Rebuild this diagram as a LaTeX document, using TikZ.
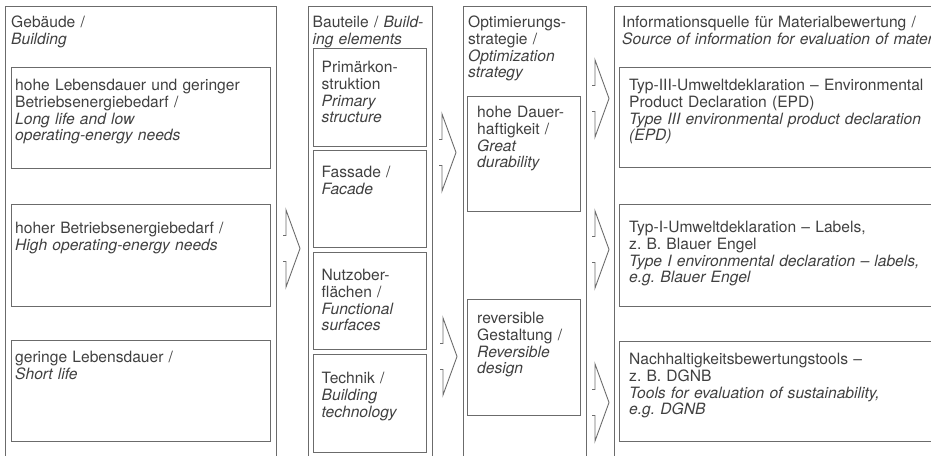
\documentclass[tikz,border=0pt]{standalone}
\usepackage{fontspec}
\setmainfont{TeX Gyre Heros}
\usetikzlibrary{positioning}
\definecolor{linegray}{gray}{0.42}
\definecolor{textgray}{gray}{0.25}
\frenchspacing

\begin{document}
\begin{tikzpicture}[
    x=1pt, y=-1pt,
    every node/.style={font=\fontsize{15.6}{16.9}\selectfont, text=textgray},
    frame/.style={draw=linegray, line width=0.9pt, anchor=north west, inner sep=0pt, minimum height=470},
    cell/.style={draw=linegray, line width=0.9pt, anchor=north west, inner sep=0pt},
    txt/.style 2 args={anchor=north west, align=left, text width=360pt, inner xsep=#1, inner ysep=#2, text height=11pt},
    chev/.pic={\draw[linegray, line width=0.9pt] (-3,-13) -- (0,-13) -- (0,-38.5) -- (14,0) -- (0,38.5) -- (0,13) -- (-3,13);}
]
\useasboundingbox (0,0) rectangle (931,455);
\clip (0,0) rectangle (931,455);

% columns
\node[frame, minimum width=271, label={[txt={6}{10}]north west:{Gebäude /\\\textit{Building}}}] (bldg) at (5,6) {};
\node[frame, minimum width=124, label={[txt={4.5}{10}]north west:{Bauteile / \textit{Build-}\\\textit{ing elements}}}] (elem) at (308,6) {};
\node[frame, minimum width=123, label={[txt={5}{10}]north west:{Optimierungs-\\strategie /\\\textit{Optimization}\\\textit{strategy}}}] (strat) at (463,6) {};
\node[frame, minimum width=340, label={[txt={8}{10}]north west:{Informationsquelle für Materialbewertung /\\\textit{Source of information for evaluation of materials}}}] (info) at (614,6) {};

% Gebaeude
\node[cell, minimum width=259, minimum height=101, label={[txt={4}{12}]north west:{hohe Lebensdauer und geringer\\Betriebsenergiebedarf /\\\textit{Long life and low}\\\textit{operating-energy needs}}}] (longlow) at (11,67) {};
\node[cell, minimum width=259, minimum height=102, label={[txt={4}{18}]north west:{hoher Betriebsenergiebedarf /\\\textit{High operating-energy needs}}}] (highop) at (11,204) {};
\node[cell, minimum width=259, minimum height=101, label={[txt={4}{11}]north west:{geringe Lebensdauer /\\\textit{Short life}}}] (short) at (11,340) {};

% Bauteile
\node[cell, minimum width=113, minimum height=98, label={[txt={8.5}{13}]north west:{Primärkon-\\struktion\\\textit{Primary}\\\textit{structure}}}] (prim) at (313,48) {};
\node[cell, minimum width=113, minimum height=97, label={[txt={8.5}{16}]north west:{Fassade /\\\textit{Facade}}}] (facade) at (313,150) {};
\node[cell, minimum width=113, minimum height=97, label={[txt={8.5}{17}]north west:{Nutzober-\\flächen /\\\textit{Functional}\\\textit{surfaces}}}] (surf) at (313,252) {};
\node[cell, minimum width=113, minimum height=98, label={[txt={8.5}{18}]north west:{Technik /\\\textit{Building}\\\textit{technology}}}] (tech) at (313,354) {};

% Strategie
\node[cell, minimum width=113, minimum height=115, label={[txt={10}{10}]north west:{hohe Dauer-\\haftigkeit /\\\textit{Great}\\\textit{durability}}}] (durab) at (467,96) {};
\node[cell, minimum width=113, minimum height=116, label={[txt={10}{13}]north west:{reversible\\Gestaltung /\\\textit{Reversible}\\\textit{design}}}] (revers) at (467,299) {};

% Informationsquelle
\node[cell, minimum width=330, minimum height=100, label={[txt={10}{12}]north west:{Typ-III-Umweltdeklaration – Environmental\\Product Declaration (EPD)\\\textit{Type III environmental product declaration}\\\textit{(EPD)}}}] (epd) at (619,67) {};
\node[cell, minimum width=330, minimum height=102, label={[txt={10}{17}]north west:{Typ-I-Umweltdeklaration – Labels,\\z. B. Blauer Engel\\\textit{Type I environmental declaration – labels,}\\\textit{e.g. Blauer Engel}}}] (labels) at (619,204) {};
\node[cell, minimum width=330, minimum height=100, label={[txt={10}{12}]north west:{Nachhaltigkeitsbewertungstools –\\z. B. DGNB\\\textit{Tools for evaluation of sustainability,}\\\textit{e.g. DGNB}}}] (dgnb) at (619,341) {};

% chevrons between columns
\pic at (286,248.5) {chev};
\pic at (442,152.5) {chev};
\pic at (443,356.5) {chev};
\pic at (595,98.5) {chev};
\pic at (595,249.5) {chev};
\pic at (595,402.5) {chev};
\end{tikzpicture}
\end{document}
